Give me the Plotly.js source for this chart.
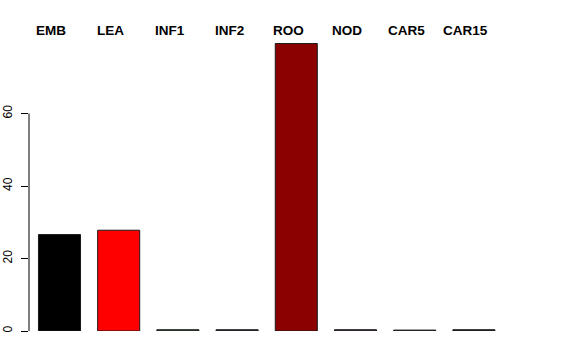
<!DOCTYPE html>
<html>
<head>
<meta charset="utf-8">
<script src="https://cdn.plot.ly/plotly-3.0.1.min.js"></script>
<style>html,body{margin:0;padding:0;background:#fff;}#chart{width:576px;height:360px;}</style>
</head>
<body>
<div id="chart"></div>
<script>
const categories = ["EMB", "LEA", "INF1", "INF2", "ROO", "NOD", "CAR5", "CAR15"];
const values = [26.6, 27.8, 0.35, 0.35, 79.3, 0.35, 0.25, 0.35];
const barColors = ["#000000", "#FF0000", "#3d5c3d", "#33334d", "#8B0000", "#4a3350", "#55555f", "#1e301e"];
const yTicks = [0, 20, 40, 60];

const trace = {
  type: "bar",
  x: categories,
  y: values,
  width: 0.71,
  marker: { color: barColors, line: { color: "#1a1a1a", width: 1 } },
  hoverinfo: "skip"
};

const annotations = categories.map(c => ({
  x: c, xref: "x", y: 1, yref: "paper",
  yanchor: "middle", xanchor: "center", yshift: 11, xshift: -8,
  text: "<b>" + c + "</b>", showarrow: false,
  font: { family: "Liberation Sans, Arial, sans-serif", size: 13.5, color: "#000" }
}));

const layout = {
  width: 576, height: 360,
  margin: { l: 29, r: 30, t: 41, b: 29, pad: 0 },
  paper_bgcolor: "#fff", plot_bgcolor: "#fff",
  showlegend: false,
  xaxis: {
    type: "category", range: [-0.515, 8.218],
    showticklabels: false, showgrid: false, zeroline: false, showline: false, ticks: ""
  },
  yaxis: {
    range: [0, 80], tickvals: yTicks, ticktext: yTicks.map(String),
    tickangle: -90, ticks: "outside", ticklen: 7, tickwidth: 1, tickcolor: "#000",
    ticklabelstandoff: 4,
    showgrid: false, zeroline: false, showline: false,
    tickfont: { family: "Liberation Sans, Arial, sans-serif", size: 12, color: "#000" }
  },
  shapes: [{
    type: "line", xref: "paper", yref: "y", x0: 0, x1: 0, y0: 0, y1: 60,
    line: { color: "#000", width: 1 }
  }],
  annotations: annotations
};

Plotly.newPlot("chart", [trace], layout, { staticPlot: true, displayModeBar: false });
</script>
</body>
</html>
